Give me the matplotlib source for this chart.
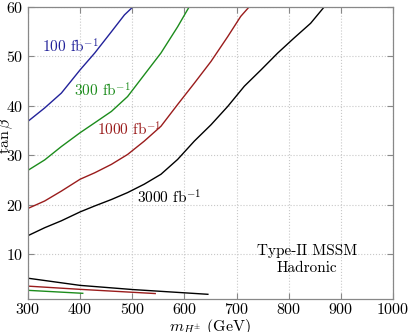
import matplotlib
matplotlib.use("Agg")
import matplotlib.pyplot as plt

plt.rcParams['font.family'] = 'cmr10'
plt.rcParams['mathtext.fontset'] = 'cm'
plt.rcParams['axes.formatter.use_mathtext'] = True

# upper contours (tan beta vs m_H+)
x100 = [300, 332, 364, 400, 428, 460, 485, 501]
y100 = [36.9, 39.6, 42.6, 47.3, 50.7, 55.0, 58.4, 60]
x300 = [300, 332, 364, 400, 428, 460, 491, 523, 555, 587, 609]
y300 = [27.0, 29.1, 31.8, 34.6, 36.6, 38.9, 41.9, 46.3, 50.7, 56.0, 60]
x1000 = [300, 332, 364, 400, 428, 460, 491, 523, 555, 587, 619, 651, 683, 708, 724]
y1000 = [19.3, 20.8, 22.8, 25.2, 26.5, 28.2, 30.2, 32.9, 35.9, 40.3, 44.6, 49.0, 54.0, 58.1, 60]
x3000 = [300, 332, 364, 400, 428, 460, 491, 523, 555, 587, 619, 651, 683, 715, 747,
         779, 810, 842, 868]
y3000 = [13.8, 15.4, 16.8, 18.6, 19.8, 21.1, 22.5, 24.2, 26.2, 29.2, 32.9, 36.2, 39.9,
         44.0, 47.3, 50.7, 53.7, 56.7, 60]

# lower contours
x300_lo = [300, 405]
y300_lo = [2.75, 2.15]
x1000_lo = [300, 400, 544]
y1000_lo = [3.6, 2.95, 2.1]
x3000_lo = [300, 400, 502, 645]
y3000_lo = [5.2, 3.75, 2.9, 1.95]

c_blue = '#22229a'
c_green = '#1c8c1c'
c_red = '#9a1c1c'
c_black = 'black'

fig = plt.figure(figsize=(4.08, 3.32), dpi=100)
ax = fig.add_axes([0.0686, 0.0994, 0.8946, 0.8796])

lw = 1.0
ax.plot(x100, y100, color=c_blue, lw=lw)
ax.plot(x300, y300, color=c_green, lw=lw)
ax.plot(x1000, y1000, color=c_red, lw=lw)
ax.plot(x3000, y3000, color=c_black, lw=lw)
ax.plot(x300_lo, y300_lo, color=c_green, lw=lw)
ax.plot(x1000_lo, y1000_lo, color=c_red, lw=lw)
ax.plot(x3000_lo, y3000_lo, color=c_black, lw=lw)

fs = 11
ax.text(327, 50.8, r'100 fb$^{-1}$', color=c_blue, fontsize=fs, va='baseline')
ax.text(389, 41.9, r'300 fb$^{-1}$', color=c_green, fontsize=fs, va='baseline')
ax.text(432, 34.0, r'1000 fb$^{-1}$', color=c_red, fontsize=fs, va='baseline')
ax.text(509, 20.3, r'3000 fb$^{-1}$', color=c_black, fontsize=fs, va='baseline')
ax.text(835, 6.4, 'Type-II MSSM\nHadronic', fontsize=fs, ha='center',
        va='baseline', multialignment='center', linespacing=1.35)

ax.set_xlim(300, 1000)
ax.set_ylim(1, 60)
ax.set_xticks(range(300, 1001, 100))
ax.set_yticks(range(10, 61, 10))
ax.grid(True, linestyle=':', color='#c8c8c8', lw=0.8)
ax.tick_params(direction='in', top=True, right=True, length=4,
               color='#888888', labelsize=11.5)
ax.tick_params(axis='x', pad=2)
ax.tick_params(axis='y', pad=3)
for s in ax.spines.values():
    s.set_color('#888888')
    s.set_linewidth(0.9)

ax.set_xlabel(r'$m_{H^{\pm}}$ (GeV)', fontsize=11.5, labelpad=0)
ax.set_ylabel(r'$\tan\beta$', fontsize=11.5)
ax.yaxis.set_label_coords(-0.035, 0.56)

fig.savefig('out.png', dpi=100)
